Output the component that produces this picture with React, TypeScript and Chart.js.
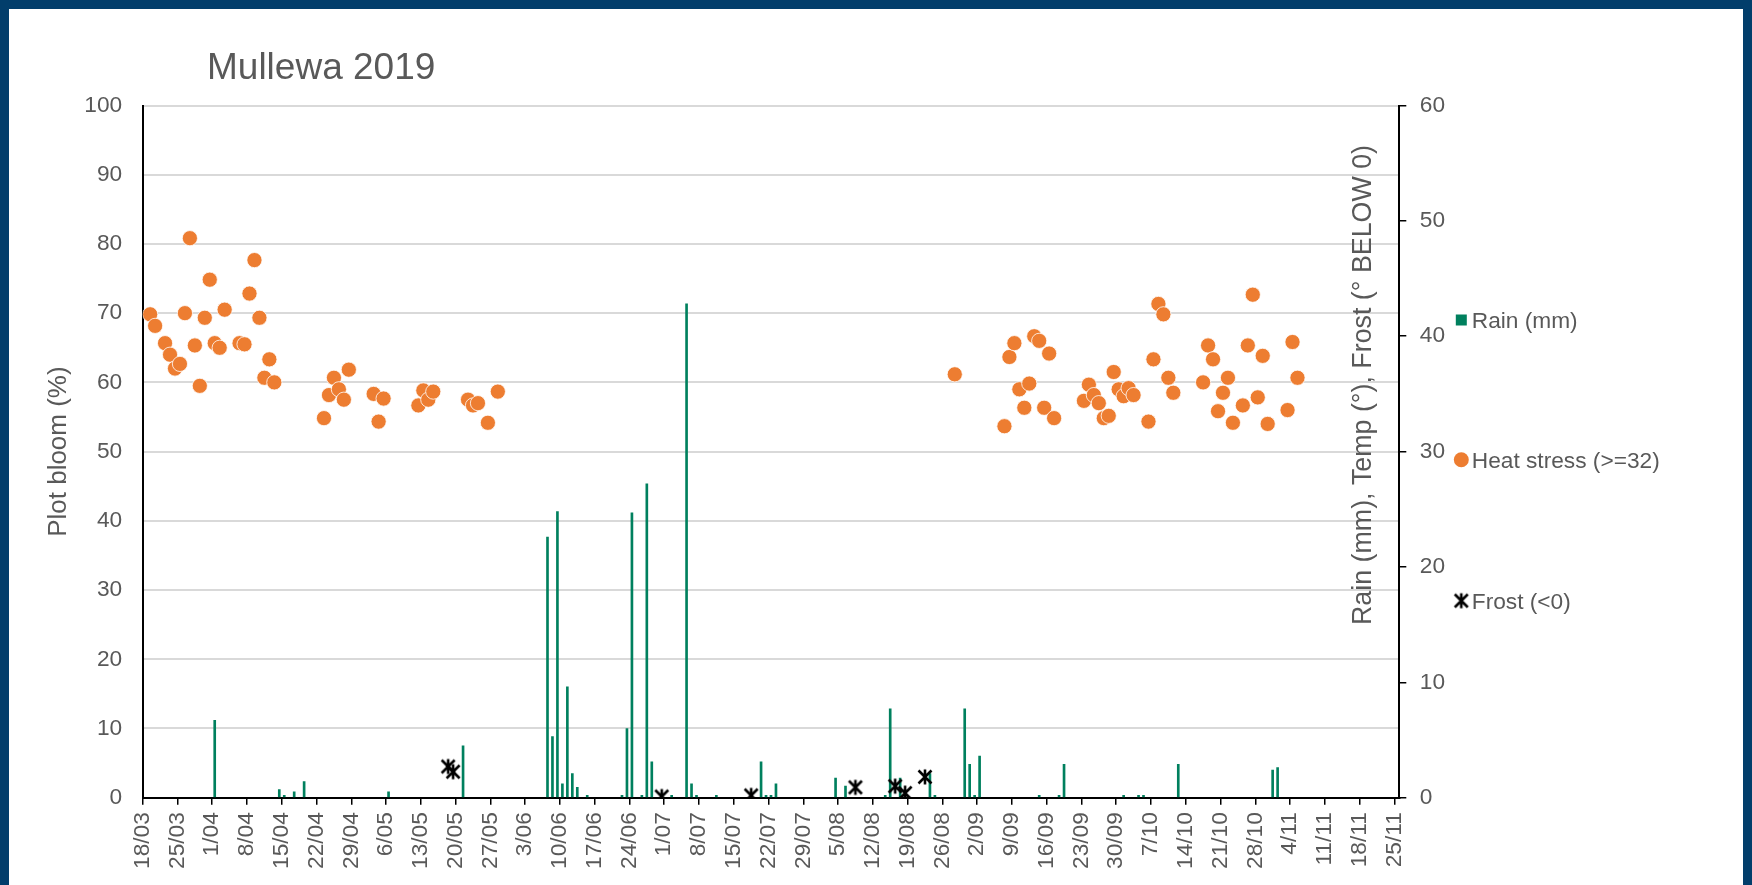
import React, { useEffect, useRef } from 'react';
import { Chart, registerables } from 'chart.js';

Chart.register(...registerables);

const FONT = '"Liberation Sans", Arial, Helvetica, sans-serif';
const TEXT = '#595959';
const GREEN = '#00805e';
const ORANGE = '#ED7D31';
const FRAME = '#023e6b';

const chartTitle = 'Mullewa 2019';
const leftAxisTitle = 'Plot bloom (%)';
const rightAxisTitle = 'Rain (mm), Temp (°), Frost (° BELOW 0)';
const seriesNames = ['Rain (mm)', 'Heat stress (>=32)', 'Frost (<0)'];

const year = 2019;
const axisStart = '18/03';
const axisDays = 253;
const tickStepDays = 7;
const leftAxisMax = 100;
const rightAxisMax = 60;
const axisStep = 10;

const rainDates = ['1/04', '14/04', '15/04', '17/04', '19/04', '6/05', '21/05', '7/06', '8/06', '9/06', '10/06', '11/06', '12/06', '13/06', '15/06', '22/06', '23/06', '24/06', '26/06', '27/06', '28/06', '2/07', '5/07', '6/07', '7/07', '11/07', '20/07', '21/07', '22/07', '23/07', '4/08', '6/08', '14/08', '15/08', '17/08', '23/08', '24/08', '30/08', '31/08', '1/09', '2/09', '14/09', '18/09', '19/09', '1/10', '4/10', '5/10', '12/10', '31/10', '1/11'];
const rainMm = [6.7, 0.7, 0.2, 0.5, 1.4, 0.5, 4.5, 22.6, 5.3, 24.8, 1.2, 9.6, 2.1, 0.9, 0.2, 0.2, 6.0, 24.7, 0.2, 27.2, 3.1, 0.2, 42.8, 1.2, 0.2, 0.2, 3.1, 0.2, 0.2, 1.2, 1.7, 1.0, 0.2, 7.7, 1.7, 2.1, 0.2, 7.7, 2.9, 0.2, 3.6, 0.2, 0.2, 2.9, 0.2, 0.2, 0.2, 2.9, 2.4, 2.6];

const heatDates = ['19/03', '20/03', '22/03', '23/03', '24/03', '25/03', '26/03', '27/03', '28/03', '29/03', '30/03', '31/03', '1/04', '2/04', '3/04', '6/04', '7/04', '8/04', '9/04', '10/04', '11/04', '12/04', '13/04', '23/04', '24/04', '25/04', '26/04', '27/04', '28/04', '3/05', '4/05', '5/05', '12/05', '13/05', '14/05', '15/05', '22/05', '23/05', '24/05', '26/05', '28/05', '28/08', '7/09', '8/09', '9/09', '10/09', '11/09', '12/09', '13/09', '14/09', '15/09', '16/09', '17/09', '23/09', '24/09', '25/09', '26/09', '27/09', '28/09', '29/09', '30/09', '1/10', '2/10', '3/10', '6/10', '7/10', '8/10', '9/10', '10/10', '11/10', '17/10', '18/10', '19/10', '20/10', '21/10', '22/10', '23/10', '25/10', '26/10', '27/10', '28/10', '29/10', '30/10', '3/11', '4/11', '5/11'];
const heatTemps = [41.9, 40.9, 39.4, 38.4, 37.2, 37.6, 42.0, 48.5, 39.2, 35.7, 41.6, 44.9, 39.4, 39.0, 42.3, 39.4, 39.3, 43.7, 46.6, 41.6, 36.4, 38.0, 36.0, 32.9, 34.9, 36.4, 35.4, 34.5, 37.1, 35.0, 32.6, 34.6, 34.0, 35.3, 34.5, 35.2, 34.5, 34.0, 34.2, 32.5, 35.2, 36.7, 32.2, 38.2, 39.4, 35.4, 33.8, 35.9, 40.0, 39.6, 33.8, 38.5, 32.9, 34.4, 35.8, 34.9, 34.2, 32.9, 33.1, 36.9, 35.4, 34.8, 35.5, 34.9, 32.6, 38.0, 42.8, 41.9, 36.4, 35.1, 36.0, 39.2, 38.0, 33.5, 35.1, 36.4, 32.5, 34.0, 39.2, 43.6, 34.7, 38.3, 32.4, 33.6, 39.5, 36.4];

const frostDates = ['18/05', '19/05', '30/06', '18/07', '8/08', '16/08', '18/08', '22/08'];
const frostDegrees = [2.7, 2.25, 0.1, 0.2, 0.9, 1.0, 0.4, 1.8];

const DAY_MS = 86400000;
function toUTC(dm: string): number {
  const [d, m] = dm.split('/').map(Number);
  return Date.UTC(year, m - 1, d);
}
const startUTC = toUTC(axisStart);
function dayIndex(dm: string): number {
  return Math.round((toUTC(dm) - startUTC) / DAY_MS);
}
// Excel date axis: each day's mark sits in the middle of its day slot
function daySlot(dm: string): number {
  return dayIndex(dm) + 0.5;
}
function dayLabel(v: number): string {
  const dt = new Date(startUTC + Math.round(v) * DAY_MS);
  return `${dt.getUTCDate()}/${String(dt.getUTCMonth() + 1).padStart(2, '0')}`;
}

function makeStar(): HTMLCanvasElement {
  const c = document.createElement('canvas');
  c.width = 18;
  c.height = 18;
  const g = c.getContext('2d')!;
  g.strokeStyle = '#000';
  g.lineWidth = 2.6;
  g.beginPath();
  g.moveTo(2.5, 2.5); g.lineTo(15.5, 15.5);
  g.moveTo(15.5, 2.5); g.lineTo(2.5, 15.5);
  g.moveTo(9, 1.5); g.lineTo(9, 16.5);
  g.stroke();
  return c;
}

const tickFont = { family: FONT, size: 22.7 };

export default function App() {
  const canvasRef = useRef<HTMLCanvasElement | null>(null);

  useEffect(() => {
    const canvas = canvasRef.current;
    if (!canvas) return;
    const star = makeStar();

    const overlay = {
      id: 'overlayText',
      afterDraw(chart: any) {
        const ctx = chart.ctx as CanvasRenderingContext2D;
        const area = chart.chartArea;
        ctx.save();
        ctx.fillStyle = TEXT;
        ctx.font = `37px ${FONT}`;
        ctx.textAlign = 'left';
        ctx.textBaseline = 'alphabetic';
        ctx.fillText(chartTitle, 198, 69.8);

        ctx.save();
        ctx.translate(area.right - 28, 376);
        ctx.rotate(-Math.PI / 2);
        ctx.font = `26.8px ${FONT}`;
        ctx.textAlign = 'center';
        ctx.fillText(rightAxisTitle, 0, 0);
        ctx.restore();

        const markerX = area.right + 62;
        const textX = markerX + 10.5;
        const centers = [311, 450.7, 591.7];
        ctx.font = `22.7px ${FONT}`;
        ctx.textAlign = 'left';
        centers.forEach((cy, i) => {
          if (i === 0) {
            ctx.fillStyle = GREEN;
            ctx.fillRect(markerX - 5.5, cy - 5.5, 11, 11);
          } else if (i === 1) {
            ctx.fillStyle = ORANGE;
            ctx.beginPath();
            ctx.arc(markerX, cy, 7.5, 0, Math.PI * 2);
            ctx.fill();
          } else {
            ctx.drawImage(star, markerX - 9, cy - 9);
          }
          ctx.fillStyle = TEXT;
          ctx.fillText(seriesNames[i], textX, cy + 8.1);
        });
        ctx.restore();
      },
    };

    const chart = new Chart(canvas, {
      type: 'scatter',
      data: {
        datasets: [
          {
            type: 'bar',
            label: seriesNames[0],
            data: rainDates.map((d, i) => ({ x: daySlot(d), y: rainMm[i] })),
            yAxisID: 'y1',
            xAxisID: 'x',
            backgroundColor: GREEN,
            borderWidth: 0,
            barThickness: 2,
            order: 3,
          } as any,
          {
            type: 'scatter',
            label: seriesNames[1],
            data: heatDates.map((d, i) => ({ x: daySlot(d), y: heatTemps[i] })),
            yAxisID: 'y1',
            xAxisID: 'x',
            backgroundColor: ORANGE,
            borderColor: '#ffffff',
            borderWidth: 0.8,
            pointRadius: 7.6,
            order: 2,
          },
          {
            type: 'scatter',
            label: seriesNames[2],
            data: frostDates.map((d, i) => ({ x: daySlot(d), y: frostDegrees[i] })),
            yAxisID: 'y1',
            xAxisID: 'x',
            pointStyle: star as any,
            pointRadius: 9,
            order: 1,
          },
        ],
      },
      options: {
        responsive: false,
        animation: false,
        events: [],
        layout: { padding: { top: 96.5, left: 0, right: 283.7, bottom: 0 } },
        plugins: {
          legend: { display: false },
          tooltip: { enabled: false },
          title: { display: false },
        },
        scales: {
          x: {
            type: 'linear',
            position: 'bottom',
            min: 0,
            max: axisDays,
            offset: false,
            ticks: {
              stepSize: tickStepDays,
              includeBounds: false,
              autoSkip: false,
              maxRotation: 90,
              minRotation: 90,
              color: TEXT,
              font: tickFont,
              padding: 7.5,
              callback: (v: any) => dayLabel(Number(v)),
            },
            grid: {
              offset: false,
              drawOnChartArea: false,
              drawTicks: true,
              tickLength: 7,
              color: '#000',
              lineWidth: 1.5,
            },
            border: { display: true, color: '#000', width: 2 },
            afterFit: (s: any) => { s.height = 87.3; },
          },
          y: {
            type: 'linear',
            position: 'left',
            min: 0,
            max: leftAxisMax,
            ticks: { stepSize: axisStep, color: TEXT, font: tickFont, padding: 20.5 },
            grid: {
              color: (c: any) => (c.tick && c.tick.value === 0 ? 'rgba(0,0,0,0)' : '#d9d9d9'),
              lineWidth: 2,
              drawTicks: false,
            },
            border: { display: true, color: '#000', width: 2 },
            title: {
              display: true,
              text: leftAxisTitle,
              color: TEXT,
              font: { family: FONT, size: 26 },
              padding: { top: 34.7, bottom: 0 },
            },
            afterFit: (s: any) => { s.width = 133.7; },
          },
          y1: {
            type: 'linear',
            position: 'right',
            min: 0,
            max: rightAxisMax,
            ticks: { stepSize: axisStep, color: TEXT, font: tickFont, padding: 13.5 },
            grid: {
              drawOnChartArea: false,
              drawTicks: true,
              tickLength: 7,
              color: '#000',
              lineWidth: 1.5,
            },
            border: { display: true, color: '#000', width: 2 },
            afterFit: (s: any) => { s.width = 60; },
          },
        },
      } as any,
      plugins: [overlay],
    });

    return () => chart.destroy();
  }, []);

  return (
    <div
      style={{
        position: 'absolute',
        left: 0,
        top: 0,
        width: 1752,
        height: 885,
        boxSizing: 'border-box',
        background: '#ffffff',
        borderTop: `9px solid ${FRAME}`,
        borderLeft: `9px solid ${FRAME}`,
        borderRight: `9px solid ${FRAME}`,
        overflow: 'hidden',
      }}
    >
      <canvas ref={canvasRef} width={1734} height={876} style={{ display: 'block' }} />
    </div>
  );
}
